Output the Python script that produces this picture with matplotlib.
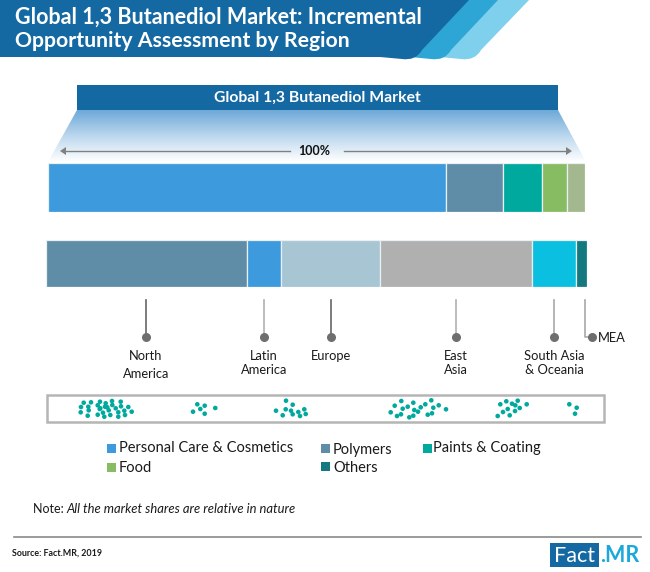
import numpy as np
import matplotlib
matplotlib.use('Agg')
import matplotlib.pyplot as plt
from matplotlib.patches import Polygon, Rectangle, PathPatch
from matplotlib.path import Path

# share of the global market by application (%)
applications = ['Personal Care & Cosmetics', 'Polymers', 'Paints & Coating', 'Food', 'Others']
application_shares = [74.2, 10.6, 7.2, 4.6, 3.4]
top_colors = ['#3d9adc', '#5f8ca6', '#00a99d', '#88bc62', '#a3b88f']

# share by region (%)
regions = ['North\nAmerica', 'Latin\nAmerica', 'Europe', 'East\nAsia', 'South Asia\n& Oceania', 'MEA']
region_shares = [37.2, 6.3, 18.3, 28.1, 8.1, 2.0]
region_colors = ['#5f8ca6', '#3d9adc', '#a8c5d3', '#b0b0b0', '#0abfdf', '#13797f']

# dots in the strip (pixels)
dots_north_america = [(83.7, 402.7), (91, 402.3), (100, 401.7), (105.7, 403.3), (112, 401), (120.7, 401.7),
                      (81, 407), (88.3, 406.7), (97.7, 405.3), (100.3, 408.3), (105, 406.7), (112.3, 405),
                      (121, 406.3), (128.3, 407), (80.7, 412.3), (88.7, 410.3), (99.7, 409), (107.3, 407.3),
                      (108.7, 410.3), (115.7, 408.3), (118.3, 412.3), (124.3, 410.7), (131.7, 411.7),
                      (87.7, 415.7), (97.7, 414.7), (103, 412.7), (104.3, 416.7), (110.3, 415),
                      (118.3, 416.7), (125, 415)]
dots_latin_america = [(197.3, 404.3), (204.7, 405.7), (215.3, 408), (200.3, 409), (193, 411.7), (204.7, 413.7)]
dots_europe = [(286, 400.7), (292.7, 404.7), (276, 410.7), (285.7, 409.3), (291, 410.7), (298.3, 412),
               (304.3, 409.3), (282.7, 415.3), (292.7, 414.3), (300, 416), (305.7, 414)]
dots_east_asia = [(401.3, 401), (413.3, 402.7), (431.3, 400.3), (394.7, 405.7), (407.7, 406.7), (425.3, 404.3),
                  (420.7, 407.3), (438.7, 405.3), (433.3, 407.7), (446, 409.3), (402.7, 408.7), (390.7, 412.3),
                  (414.3, 410), (418, 411.7), (401, 414.3), (397, 416), (413.3, 415.7), (409.3, 417.3),
                  (432, 413.3), (427.7, 414.7)]
dots_south_asia = [(506.3, 401.3), (517.7, 400.7), (500.3, 404.3), (512, 403.7), (515.3, 405.3), (526.7, 404.3),
                   (507.7, 409), (519.7, 408), (503, 412), (515, 411), (497.7, 416), (509.7, 415.3)]
dots_mea = [(569.3, 404.3), (576.7, 407.7), (575, 413.7)]

DARK = '#1569a3'
W, H = 650, 572

plt.rcParams['font.family'] = ['Lato', 'DejaVu Sans']

fig = plt.figure(figsize=(6.5, 5.72), dpi=100)
ax = fig.add_axes([0, 0, 1, 1])
ax.set_xlim(0, W)
ax.set_ylim(H, 0)
ax.axis('off')


def stacked_bar(x0, x1, y0, y1, shares, colors):
    # one stacked bar in its own axes, placed in pixels
    bar_ax = fig.add_axes([x0 / W, 1 - y1 / H, (x1 - x0) / W, (y1 - y0) / H])
    left = 0
    for share, color in zip(shares, colors):
        bar_ax.barh(0, share, left=left, height=1, color=color, edgecolor='#e8f0f4', linewidth=0.9)
        left += share
    bar_ax.set_xlim(0, sum(shares))
    bar_ax.set_ylim(-0.5, 0.5)
    bar_ax.axis('off')


def ribbon(x_top, x_bot, x_end, color, zorder):
    # slanted header band with a rounded foot
    verts = [(0, 0), (x_top, 0), (x_bot, 50), (x_bot - 6, 61), (x_bot - 20, 59), (x_end, 57), (0, 57), (0, 0)]
    codes = [Path.MOVETO, Path.LINETO, Path.LINETO, Path.CURVE3, Path.CURVE3, Path.LINETO, Path.LINETO, Path.CLOSEPOLY]
    ax.add_patch(PathPatch(Path(verts, codes), facecolor=color, edgecolor='none', zorder=zorder))


# header
ribbon(529, 481, 440, '#7fd0ec', 1)
ribbon(498, 451, 410, '#2da6d5', 2)
ribbon(469, 422, 380, DARK, 3)
ax.text(15, 17, 'Global 1,3 Butanediol Market: Incremental', color='white', fontsize=15.5,
        fontweight='bold', va='center', zorder=5)
ax.text(15, 41, 'Opportunity Assessment by Region', color='white', fontsize=15.3,
        fontweight='bold', va='center', zorder=5)

# banner and the gradient under it
ax.add_patch(Rectangle((77, 85), 481, 25, facecolor=DARK, edgecolor='none'))
ax.text(317, 98, 'Global 1,3 Butanediol Market', color='white', fontsize=11.3, fontweight='bold',
        ha='center', va='center')
grad = np.linspace(0, 1, 64).reshape(-1, 1)
trapezoid = Polygon([(77, 110), (558, 110), (586, 162), (48, 162)], transform=ax.transData, facecolor='none', edgecolor='none')
ax.add_patch(trapezoid)
cmap = matplotlib.colors.LinearSegmentedColormap.from_list('fade', ['#6ea9d8', '#bcd8ee', '#ffffff'])
img = ax.imshow(grad, extent=(48, 586, 162, 110), cmap=cmap, aspect='auto', zorder=1)
img.set_clip_path(trapezoid)
ax.set_xlim(0, W)
ax.set_ylim(H, 0)

# 100% arrow
for x_a, x_b in [(63, 290), (344, 569)]:
    ax.plot([x_a, x_b], [151, 151], color='#808080', lw=1, zorder=3)
ax.add_patch(Polygon([(60, 151), (66, 147), (66, 155)], facecolor='#808080', edgecolor='none', zorder=3))
ax.add_patch(Polygon([(572, 151), (566, 147), (566, 155)], facecolor='#808080', edgecolor='none', zorder=3))
ax.text(314, 151, '100%', fontsize=9, fontweight='bold', color='#111111', ha='center', va='center', zorder=3)

# stacked bars
stacked_bar(47.5, 585, 163, 212, application_shares, top_colors)
stacked_bar(45.5, 587, 240, 287, region_shares, region_colors)

# leaders and region labels
leader_x = [146, 264, 331, 456, 554]
line_colors = ['#666666', '#b0b0b0', '#666666', '#b0b0b0', '#a8a8a8']
label_y = [(356, 374), (356, 370), (356,), (356, 370), (356, 370)]
for x, name, c, ys in zip(leader_x, regions, line_colors, label_y):
    ax.plot([x, x], [300, 337], color=c, lw=1.2, zorder=2)
    ax.plot(x, 337, 'o', color='#6e6e6e', ms=6.5, mec='none', zorder=3)
    for y, part in zip(ys, name.split('\n')):
        ax.text(x, y, part, fontsize=9.3, color='#1a1a1a', ha='center', va='center')
ax.plot([585, 585, 592], [300, 337, 337], color='#a8a8a8', lw=1.2, zorder=2)
ax.plot(592, 337, 'o', color='#6e6e6e', ms=6.5, mec='none', zorder=3)
ax.text(598, 337.5, regions[5], fontsize=9.3, color='#1a1a1a', va='center')

# strip of dots
ax.add_patch(Rectangle((47, 395), 557, 27, facecolor='white', edgecolor='#b5b5b5', lw=1.8))
for dots in [dots_north_america, dots_latin_america, dots_europe, dots_east_asia, dots_south_asia, dots_mea]:
    xs, ys = zip(*dots)
    ax.scatter(xs, ys, s=11, color='#00a99d', edgecolor='none', zorder=3)

# legend
legend_pos = [(107, 444, 119, 448), (321, 444, 333, 450), (423, 444, 433, 448), (107, 463, 119, 468), (321, 462, 333, 468)]
legend_colors = ['#3d9adc', '#5f8ca6', '#00a99d', '#88bc62', '#13797f']
for name, c, (sx, sy, tx, ty) in zip(applications, legend_colors, legend_pos):
    ax.add_patch(Rectangle((sx, sy), 9, 9, facecolor=c, edgecolor='none'))
    ax.text(tx, ty, name, fontsize=10.5, color='#1a1a1a', va='center')

# note and footer
ax.text(33, 509, 'Note: ', fontsize=9, color='#1a1a1a', va='center')
ax.text(66, 509, 'All the market shares are relative in nature', fontsize=9.4, style='italic',
        color='#1a1a1a', va='center')
ax.plot([14, 641], [537, 537], color='#8a8a8a', lw=1.2)
ax.text(12, 553, 'Source: Fact.MR, 2019', fontsize=6.4, color='#1a1a1a', fontweight='bold', va='center')
ax.add_patch(Rectangle((550, 543), 49, 24, facecolor=DARK, edgecolor='none'))
ax.text(574.5, 555.5, 'Fact', fontsize=15.5, color='white', ha='center', va='center')
ax.text(600, 555.5, '.MR', fontsize=15.5, color='#1da8dc', fontweight='bold', va='center')

fig.savefig('out.png', dpi=100)
